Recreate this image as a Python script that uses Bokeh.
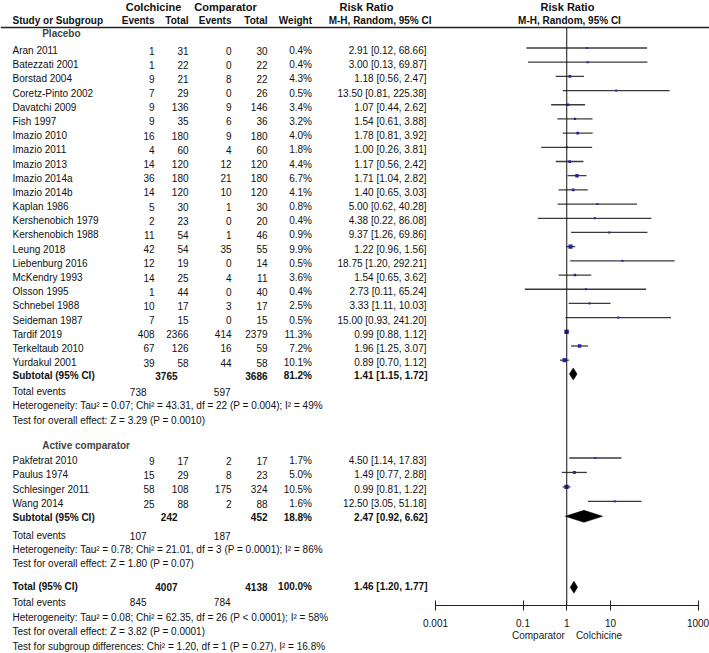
import numpy as np
from bokeh.plotting import figure
from bokeh.models import (ColumnDataSource, Range1d, FixedTicker, CustomJSTickFormatter, Span,
                          LogAxis, LogScale)
from bokeh.core.properties import value
from bokeh.embed import file_html
from bokeh.resources import INLINE

# ---------------- data ----------------
placebo_studies = ["Aran 2011", "Batezzati 2001", "Borstad 2004", "Coretz-Pinto 2002", "Davatchi 2009",
                   "Fish 1997", "Imazio 2010", "Imazio 2011", "Imazio 2013", "Imazio 2014a", "Imazio 2014b",
                   "Kaplan 1986", "Kershenobich 1979", "Kershenobich 1988", "Leung 2018", "Liebenburg 2016",
                   "McKendry 1993", "Olsson 1995", "Schnebel 1988", "Seideman 1987", "Tardif 2019",
                   "Terkeltaub 2010", "Yurdakul 2001"]
placebo_col_events = [1, 1, 9, 7, 9, 9, 16, 4, 14, 36, 14, 5, 2, 11, 42, 12, 14, 1, 10, 7, 408, 67, 39]
placebo_col_total = [31, 22, 21, 29, 136, 35, 180, 60, 120, 180, 120, 30, 23, 54, 54, 19, 25, 44, 17, 15, 2366, 126, 58]
placebo_cmp_events = [0, 0, 8, 0, 9, 6, 9, 4, 12, 21, 10, 1, 0, 1, 35, 0, 4, 0, 3, 0, 414, 16, 44]
placebo_cmp_total = [30, 22, 22, 26, 146, 36, 180, 60, 120, 180, 120, 30, 20, 46, 55, 14, 11, 40, 17, 15, 2379, 59, 58]
placebo_weight = [0.4, 0.4, 4.3, 0.5, 3.4, 3.2, 4.0, 1.8, 4.4, 6.7, 4.1, 0.8, 0.4, 0.9, 9.9, 0.5, 3.6, 0.4, 2.5, 0.5, 11.3, 7.2, 10.1]
placebo_rr = [2.91, 3.00, 1.18, 13.50, 1.07, 1.54, 1.78, 1.00, 1.17, 1.71, 1.40, 5.00, 4.38, 9.37, 1.22, 18.75, 1.54, 2.73, 3.33, 15.00, 0.99, 1.96, 0.89]
placebo_lo = [0.12, 0.13, 0.56, 0.81, 0.44, 0.61, 0.81, 0.26, 0.56, 1.04, 0.65, 0.62, 0.22, 1.26, 0.96, 1.20, 0.65, 0.11, 1.11, 0.93, 0.88, 1.25, 0.70]
placebo_hi = [68.66, 69.87, 2.47, 225.38, 2.62, 3.88, 3.92, 3.81, 2.42, 2.82, 3.03, 40.28, 86.08, 69.86, 1.56, 292.21, 3.62, 65.24, 10.03, 241.20, 1.12, 3.07, 1.12]

active_studies = ["Pakfetrat 2010", "Paulus 1974", "Schlesinger 2011", "Wang 2014"]
active_col_events = [9, 15, 58, 25]
active_col_total = [17, 29, 108, 88]
active_cmp_events = [2, 8, 175, 2]
active_cmp_total = [17, 23, 324, 88]
active_weight = [1.7, 5.0, 10.5, 1.6]
active_rr = [4.50, 1.49, 0.99, 12.50]
active_lo = [1.14, 0.77, 0.81, 3.05]
active_hi = [17.83, 2.88, 1.22, 51.18]

summary_labels = ["Subtotal (95% CI)", "Subtotal (95% CI)", "Total (95% CI)"]
summary_col_total = [3765, 242, 4007]
summary_cmp_total = [3686, 452, 4138]
summary_weight = [81.2, 18.8, 100.0]
summary_rr = [1.41, 2.47, 1.46]
summary_lo = [1.15, 0.92, 1.20]
summary_hi = [1.72, 6.62, 1.77]
summary_col_events = [738, 107, 845]
summary_cmp_events = [597, 187, 784]

heterogeneity = ["Heterogeneity: Tau\u00b2 = 0.07; Chi\u00b2 = 43.31, df = 22 (P = 0.004); I\u00b2 = 49%",
                 "Heterogeneity: Tau\u00b2 = 0.78; Chi\u00b2 = 21.01, df = 3 (P = 0.0001); I\u00b2 = 86%",
                 "Heterogeneity: Tau\u00b2 = 0.08; Chi\u00b2 = 62.35, df = 26 (P < 0.0001); I\u00b2 = 58%"]
overall_effect = ["Test for overall effect: Z = 3.29 (P = 0.0010)",
                  "Test for overall effect: Z = 1.80 (P = 0.07)",
                  "Test for overall effect: Z = 3.82 (P = 0.0001)"]
subgroup_test = "Test for subgroup differences: Chi\u00b2 = 1.20, df = 1 (P = 0.27), I\u00b2 = 16.8%"
group_names = ["Placebo", "Active comparator"]

axis_ticks = [0.001, 0.1, 1, 10, 1000]

# ---------------- layout ----------------
FONT_NAME = "Liberation Sans"
FONT = value(FONT_NAME)
W, H = 709, 653
AX_Y = 605.0

# forest x geometry (pixels)
X_MIN_PX, X_MAX_PX = 435.0, 697.5
DEC = (X_MAX_PX - X_MIN_PX) / 6.0
def px2log(px):
    return 10 ** ((px - X_MIN_PX) / DEC - 3)

p = figure(width=W, height=H, x_range=Range1d(0, W), y_range=Range1d(H, 0),
           x_axis_type=None, y_axis_type=None, toolbar_location=None, output_backend="svg",
           min_border=0)
p.outline_line_color = None
p.grid.visible = False
p.extra_x_ranges = {"rr": Range1d(px2log(0), px2log(W))}
p.extra_x_scales = {"rr": LogScale()}

ax = LogAxis(x_range_name="rr", fixed_location=AX_Y)
ax.ticker = FixedTicker(ticks=axis_ticks, minor_ticks=[])
ax.formatter = CustomJSTickFormatter(code="return tick.toString();")
ax.bounds = (axis_ticks[0], axis_ticks[-1])
ax.major_tick_in = 5
ax.major_tick_out = 5
ax.minor_tick_line_color = None
ax.axis_line_color = "#222222"
ax.major_tick_line_color = "#222222"
ax.major_label_text_font = FONT_NAME
ax.major_label_text_font_size = "10px"
ax.major_label_text_color = "#111111"
ax.major_label_standoff = 8
ax.axis_label = "Comparator \u00a0\u00a0\u00a0Colchicine"
ax.axis_label_text_font = FONT_NAME
ax.axis_label_text_font_size = "10px"
ax.axis_label_text_font_style = "normal"
ax.axis_label_text_color = "#222222"
ax.axis_label_standoff = 0
p.add_layout(ax, "below")


def txt(xs, ys, texts, align="left", bold=False, size="10px", color="#111111"):
    src = ColumnDataSource(dict(x=list(xs), y=list(ys), t=list(texts)))
    p.text(x="x", y="y", text="t", source=src, text_align=align, text_baseline="middle",
           text_font=FONT, text_font_size=size, text_font_style="bold" if bold else "normal",
           text_color=color)

# header
txt([153, 225, 366, 567], [6] * 4, ["Colchicine", "Comparator", "Risk Ratio", "Risk Ratio"],
    align="center", bold=True, size="11px")
txt([12], [20], ["Study or Subgroup"], bold=True)
txt([154, 188, 231, 267, 311.5, 431], [20] * 6,
    ["Events", "Total", "Events", "Total", "Weight", "M-H, Random, 95% CI"], align="right", bold=True)
txt([569], [20], ["M-H, Random, 95% CI"], align="center", bold=True)
p.add_layout(Span(location=27, dimension="width", line_color="#222222", line_width=1.5))

# rows
y_pl = 50 + 14.19 * np.arange(len(placebo_studies))
y_ac = 460 + 14.45 * np.arange(len(active_studies))
GLYPH_DY = -2.5

def rr_text(r, l, h):
    return [f"{a:.2f} [{b:.2f}, {c:.2f}]" for a, b, c in zip(r, l, h)]

def study_block(names, ce, ct, pe, pt, w, r, l, h, ys):
    n = len(ys)
    txt([12] * n, ys, names)
    txt([154] * n, ys, [str(v) for v in ce], align="right")
    txt([188] * n, ys, [str(v) for v in ct], align="right")
    txt([231] * n, ys, [str(v) for v in pe], align="right")
    txt([267] * n, ys, [str(v) for v in pt], align="right")
    txt([311.5] * n, ys, [f"{v:.1f}%" for v in w], align="right")
    txt([426] * n, ys, rr_text(r, l, h), align="right")
    src = ColumnDataSource(dict(lo=l, hi=h, rr=r, y=ys + GLYPH_DY,
                                size=np.maximum(2.0, 1.3 * np.sqrt(np.array(w)))))
    p.segment(x0="lo", x1="hi", y0="y", y1="y", source=src, line_color="#3a3a3a", line_width=1.3,
              x_range_name="rr")
    p.scatter(x="rr", y="y", size="size", marker="square", source=src,
              fill_color="#2323a8", line_color=None, x_range_name="rr")

txt([41.7], [33.3], [group_names[0]], bold=True, color="#444444")
study_block(placebo_studies, placebo_col_events, placebo_col_total, placebo_cmp_events, placebo_cmp_total,
            placebo_weight, placebo_rr, placebo_lo, placebo_hi, y_pl)
txt([41.7], [445], [group_names[1]], bold=True, color="#444444")
study_block(active_studies, active_col_events, active_col_total, active_cmp_events, active_cmp_total,
            active_weight, active_rr, active_lo, active_hi, y_ac)

# summary rows
sum_y = [375, 516.5, 586]
diamond_y = [373.5, 515.8, 586.7]
ev_y = [391, 535, 601.7]
het_y = [405, 549.3, 616.7]
eff_y = [420, 563.3, 630.7]

txt([12] * 3, sum_y, summary_labels, bold=True)
txt([177] * 3, sum_y, [str(v) for v in summary_col_total], align="right", bold=True)
txt([267] * 3, sum_y, [str(v) for v in summary_cmp_total], align="right", bold=True)
txt([311.5] * 3, sum_y, [f"{v:.1f}%" for v in summary_weight], align="right", bold=True)
txt([427] * 3, sum_y, rr_text(summary_rr, summary_lo, summary_hi), align="right", bold=True)
txt([12] * 3, ev_y, ["Total events"] * 3)
txt([146] * 3, ev_y, [str(v) for v in summary_col_events], align="right")
txt([230] * 3, ev_y, [str(v) for v in summary_cmp_events], align="right")
txt([12] * 3, het_y, heterogeneity)
txt([12] * 3, eff_y, overall_effect)
txt([12], [645.7], [subgroup_test])

dxs = [[l, r, h, r] for l, r, h in zip(summary_lo, summary_rr, summary_hi)]
dys = [[y, y - 6, y, y + 6] for y in diamond_y]
p.patches(xs=dxs, ys=dys, fill_color="black", line_color="black", line_width=0.5, x_range_name="rr")

# line of no effect
p.segment(x0=[1], x1=[1], y0=[27], y1=[AX_Y], line_color="#111111", line_width=1, x_range_name="rr")

open("out.html", "w").write(file_html(p, INLINE))
